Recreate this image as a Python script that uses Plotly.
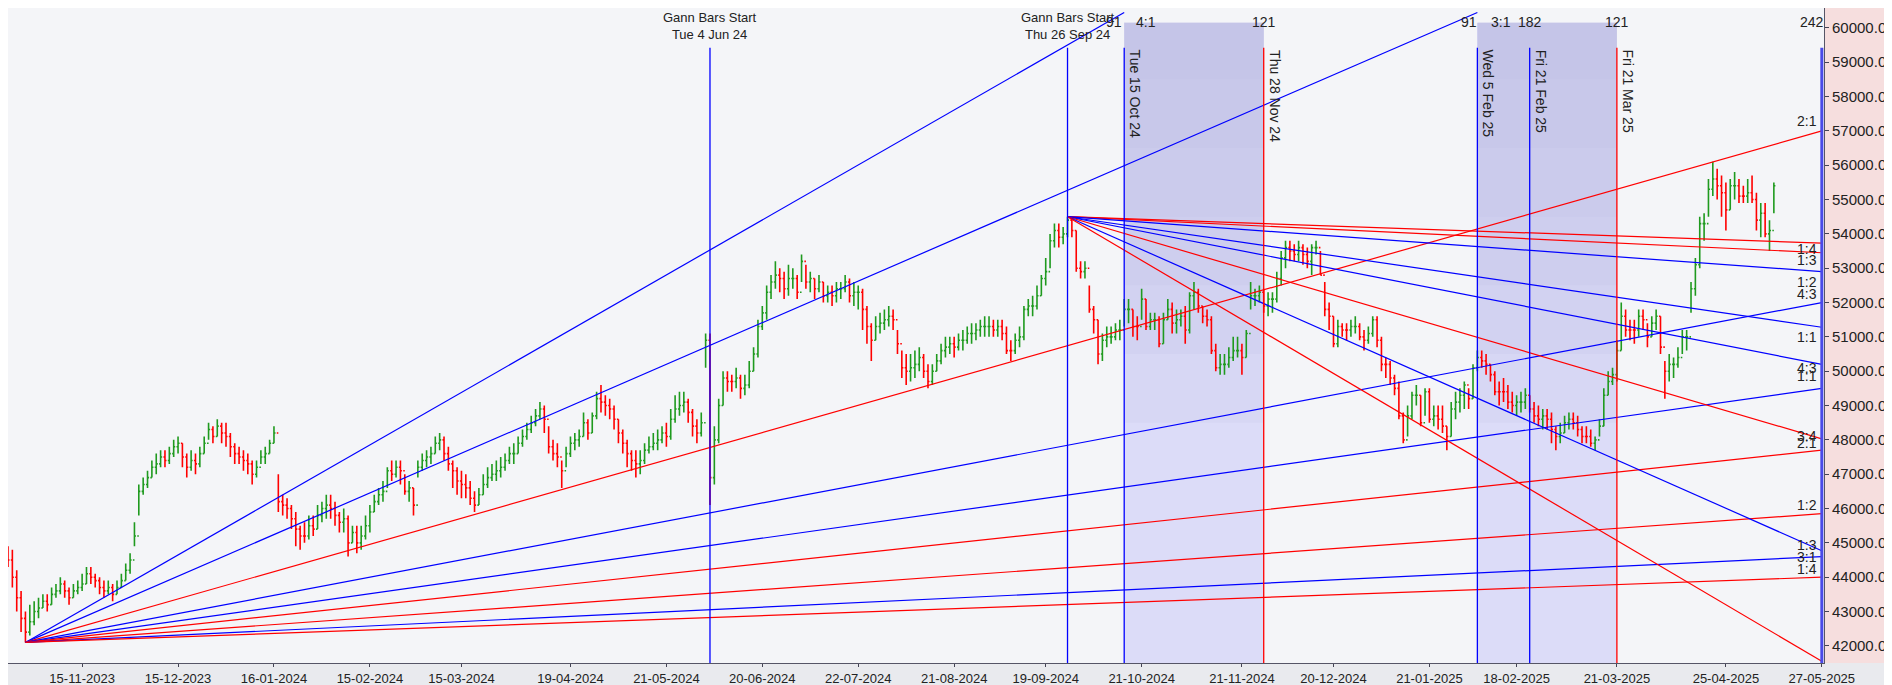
import plotly.graph_objects as go
import pandas as pd

# Daily bars (values in hundreds of points), Oct-2023 .. May-2025
close = [445,440,434,428,424,427,430,
 431,433,432,435,436,438,436,434,436,437,438,441,440,439,437,436,437,435,437,439,442,445,
 452,465,467,469,472,473,475,474,476,478,479,475,472,474,473,476,479,483,481,484,482,
 481,478,476,475,474,473,470,472,475,476,479,482,462,461,460,457,454,452,452,455,454,458,460,
 461,460,458,456,457,450,453,450,452,455,459,462,464,465,471,470,472,471,465,466,461,
 472,474,475,476,479,480,476,473,471,468,467,466,463,461,464,467,469,470,471,472,474,
 476,476,479,481,483,485,487,489,486,478,476,475,471,476,479,480,481,485,482,487,492,491,
 490,489,486,482,479,476,474,473,474,477,478,479,480,482,481,486,489,490,491,488,484,482,485,
 509,469,480,490,498,497,497,498,495,496,500,505,513,517,523,526,528,527,524,527,
 527,523,532,526,527,524,526,522,523,522,524,524,526,522,523,523,518,513,509,513,514,515,516,
 515,508,501,500,501,502,504,500,497,500,503,506,507,508,507,509,509,511,511,512,513,513,
 513,512,513,511,506,506,509,510,518,519,519,522,527,529,538,541,539,540,544,541,530,
 529,530,518,515,505,509,510,510,512,512,518,518,513,513,521,513,515,515,508,515,518,514,515,
 516,512,522,523,519,516,515,506,501,502,502,504,506,506,504,511,522,522,523,519,521,
 521,527,533,536,535,534,536,534,532,536,536,528,518,516,508,513,512,512,513,513,510,509,
 511,515,509,502,502,498,495,487,480,487,493,493,485,494,486,487,486,484,481,489,491,493,496,
 492,501,504,503,502,499,494,494,494,491,490,491,491,493,489,487,486,487,486,483,
 481,482,485,486,485,483,481,481,479,480,484,493,497,499,506,516,512,512,512,516,515,
 510,514,516,507,500,502,502,504,510,510,524,531,543,543,553,556,554,552,547,554,554,551,
 551,552,550,544,546,540,541,554]
high = [449,448,442,436,430,432,433,
 434,435,435,437,438,440,439,437,438,439,441,443,443,441,440,439,439,438,439,441,444,447,
 456,467,469,471,474,476,477,477,478,480,481,479,476,477,476,478,481,485,484,486,485,
 485,482,479,478,477,476,474,474,477,478,480,484,470,464,463,461,459,455,456,458,458,461,462,
 464,464,462,459,460,458,455,455,455,458,461,464,466,468,472,474,474,474,470,468,466,
 474,476,477,478,481,482,481,478,474,472,471,470,468,465,466,470,472,473,474,475,476,
 478,479,481,483,485,487,489,491,490,484,480,479,474,478,481,482,483,488,486,488,494,496,
 493,492,490,486,483,480,477,477,477,479,481,482,483,484,485,489,493,494,494,492,489,486,488,
 511,511,484,492,500,500,499,501,499,499,503,507,515,519,525,528,532,530,529,531,
 530,528,534,531,529,527,528,526,525,525,526,526,528,527,526,525,524,519,514,516,517,518,519,
 518,512,506,505,505,506,507,505,502,502,505,508,510,510,510,511,512,513,514,514,515,516,
 516,515,515,515,513,509,511,513,519,521,522,525,528,533,540,543,543,542,545,545,541,
 532,532,525,519,515,511,513,513,514,515,521,521,518,516,524,521,517,517,516,517,521,520,518,
 518,519,523,526,524,519,518,516,508,505,505,507,510,510,508,512,526,524,525,524,523,
 523,529,535,538,538,537,538,537,536,537,538,535,526,520,516,515,514,514,515,516,514,512,
 513,516,516,510,504,503,499,497,488,490,494,496,493,495,495,490,490,490,484,491,494,495,497,
 495,502,506,506,505,502,500,497,498,496,494,493,494,495,493,491,490,489,489,488,
 484,485,487,488,488,487,484,484,483,481,486,495,500,501,509,520,518,515,515,518,518,
 514,516,518,516,503,505,504,507,512,512,526,533,545,546,556,561,559,557,555,556,558,556,
 554,556,557,552,549,549,544,555]
low = [443,437,430,424,421,423,426,
 428,431,430,432,434,435,434,432,434,435,436,438,438,437,435,434,435,433,435,437,439,441,
 449,458,464,466,469,470,472,472,473,475,476,472,469,471,470,472,476,480,479,481,479,
 478,475,473,473,471,470,467,469,473,473,476,479,459,458,457,454,449,448,450,451,452,454,456,
 457,457,455,453,453,446,450,447,448,451,453,459,461,462,466,468,469,467,464,462,458,
 469,471,472,473,476,477,474,471,466,464,463,463,461,459,461,464,466,468,468,469,471,
 473,473,476,478,480,482,484,486,482,476,474,472,466,472,475,477,478,481,480,482,486,488,
 487,486,483,479,476,472,471,469,470,473,476,477,477,479,478,480,485,487,488,485,481,479,481,
 501,461,467,479,490,494,494,495,492,493,495,500,504,512,515,521,524,523,521,522,
 524,521,526,524,523,521,523,520,520,519,520,521,523,520,519,518,512,508,503,509,511,512,513,
 512,505,498,496,497,498,500,498,495,496,500,502,504,505,504,506,506,508,508,509,510,510,
 510,510,510,509,505,503,505,507,509,516,516,518,522,525,530,536,536,537,539,539,529,
 527,527,517,511,502,503,507,508,509,509,513,514,510,509,515,512,512,512,507,508,515,511,511,
 513,508,511,518,517,514,513,505,500,499,499,501,503,504,499,504,518,519,520,517,516,
 517,520,525,530,532,532,532,531,530,528,534,528,516,512,507,507,510,509,510,511,509,506,
 508,510,507,500,498,496,493,486,479,481,486,490,484,487,485,484,483,482,477,481,486,488,489,
 489,492,500,501,499,497,493,490,491,489,488,487,488,489,488,485,484,483,483,479,
 477,479,482,483,483,481,479,479,478,477,481,484,493,496,497,506,510,509,508,510,512,
 507,510,512,505,492,497,498,501,505,506,517,522,530,538,545,551,550,545,541,547,550,549,
 549,549,549,541,539,539,535,546]

# Gann fans
low_apex_date, low_apex_price = "2023-10-27", 42100
low_fan_end_dates = ["2024-10-15", "2025-02-05", "2025-05-27", "2025-05-27", "2025-05-27",
                     "2025-05-27", "2025-05-27", "2025-05-27", "2025-05-27"]
low_fan_end_prices = [60450, 60450, 57000, 52000, 49500, 47700, 45850, 44600, 44000]
low_fan_colors = ["blue", "blue", "red", "blue", "blue", "red", "red", "blue", "red"]

high_apex_date, high_apex_price = "2024-09-26", 54500
high_fan_end_date = "2025-05-27"
high_fan_end_prices = [53730, 53450, 52900, 51280, 50200, 48030, 44770, 41550]
high_fan_colors = ["red", "red", "blue", "blue", "blue", "red", "blue", "red"]

# vertical time lines
vline_dates = ["2024-06-04", "2024-09-26", "2024-10-15", "2024-11-28",
               "2025-02-05", "2025-02-21", "2025-03-21"]
vline_colors = ["blue", "blue", "blue", "red", "blue", "blue", "red"]
vline_rot_labels = [None, None, "Tue 15 Oct 24", "Thu 28 Nov 24",
                    "Wed 5 Feb 25", "Fri 21 Feb 25", "Fri 21 Mar 25"]
shade_ranges = [("2024-10-15", "2024-11-28"), ("2025-02-05", "2025-03-21")]

right_labels = [("2:1", 57300), ("1:4", 53550), ("1:3", 53250), ("1:2", 52600), ("4:3", 52250),
                ("1:1", 51000), ("4:3", 50100), ("1:1", 49850), ("3:4", 48100), ("2:1", 47900),
                ("1:2", 46100), ("1:3", 44950), ("3:1", 44600), ("1:4", 44250)]

tick_dates = ["2023-11-15", "2023-12-15", "2024-01-16", "2024-02-15", "2024-03-15", "2024-04-19",
              "2024-05-21", "2024-06-20", "2024-07-22", "2024-08-21", "2024-09-19", "2024-10-21",
              "2024-11-21", "2024-12-20", "2025-01-21", "2025-02-18", "2025-03-21", "2025-04-25",
              "2025-05-27"]
tick_text = [pd.Timestamp(d).strftime("%d-%m-%Y") for d in tick_dates]

n = min(len(close), len(high), len(low))
dates = pd.bdate_range("2023-10-23", periods=n)
c = [v * 100 for v in close[:n]]
h = [v * 100 for v in high[:n]]
l = [v * 100 for v in low[:n]]
o = [c[0] + 50] + c[:-1]

COL = {"blue": "#0000ff", "red": "#ff0000"}
YMIN, YMAX = 41500, 60580
fig = go.Figure()

shapes = []
for a, b in shade_ranges:
    shapes.append(dict(type="rect", xref="x", yref="y", x0=a, x1=b, y0=YMIN, y1=60150,
                       fillcolor="#dcdcf8", line_width=0, layer="below"))
    for k, y0 in enumerate([58500, 56500, 54500, 52500, 50500, 48500]):
        shapes.append(dict(type="rect", xref="x", yref="y", x0=a, x1=b, y0=y0, y1=60150,
                           fillcolor="#b8b8e2", opacity=0.12, line_width=0, layer="below"))
shapes.append(dict(type="rect", xref="paper", yref="paper", x0=1.0, x1=1.035, y0=0, y1=1,
                   fillcolor="#f6dede", line_width=0, layer="below"))
for d, col in zip(vline_dates, vline_colors):
    shapes.append(dict(type="line", xref="x", yref="y", x0=d, x1=d, y0=YMIN, y1=59420,
                       line=dict(color=COL[col], width=1.3)))
shapes.append(dict(type="line", xref="x", yref="y", x0="2025-05-27", x1="2025-05-27", y0=YMIN, y1=59420,
                   line=dict(color="#4a4ae8", width=3)))

for d, p, col in zip(low_fan_end_dates, low_fan_end_prices, low_fan_colors):
    fig.add_trace(go.Scatter(x=[low_apex_date, d], y=[low_apex_price, p], mode="lines",
                             line=dict(color=COL[col], width=1.2), hoverinfo="skip", showlegend=False))
for p, col in zip(high_fan_end_prices, high_fan_colors):
    fig.add_trace(go.Scatter(x=[high_apex_date, high_fan_end_date], y=[high_apex_price, p], mode="lines",
                             line=dict(color=COL[col], width=1.2), hoverinfo="skip", showlegend=False))

fig.add_trace(go.Ohlc(x=dates, open=o, high=h, low=l, close=c, tickwidth=0.35,
                      increasing=dict(line=dict(color="#1f9a1f", width=1.6)),
                      decreasing=dict(line=dict(color="#ff0000", width=1.6)),
                      showlegend=False))

F = "Liberation Sans, Arial, sans-serif"
ann = []
for d, txt in [("2024-06-04", "Gann Bars Start<br>Tue 4 Jun 24"), ("2024-09-26", "Gann Bars Start<br>Thu 26 Sep 24")]:
    ann.append(dict(x=d, y=1.0, xref="x", yref="paper", text=txt, showarrow=False, xanchor="center",
                    yanchor="top", font=dict(size=13, color="#222", family=F)))
for d, txt in zip(vline_dates, vline_rot_labels):
    if txt:
        ann.append(dict(x=d, y=59420, xref="x", yref="y", text=txt, showarrow=False, textangle=90,
                        xanchor="left", yanchor="top", xshift=1, font=dict(size=14, color="#222", family=F)))
top_nums = [("2024-10-15", "91", "right", 0), ("2024-10-15", "4:1", "left", 10), ("2024-11-28", "121", "center", 0),
            ("2025-02-05", "91", "right", 2), ("2025-02-05", "3:1", "left", 12), ("2025-02-21", "182", "center", 0),
            ("2025-03-21", "121", "center", 0), ("2025-05-27", "242", "right", 4)]
for d, txt, xa, sh in top_nums:
    ann.append(dict(x=d, y=1.0, xref="x", yref="paper", text=txt, showarrow=False, xanchor=xa, xshift=sh,
                    yanchor="top", yshift=-4, font=dict(size=14, color="#222", family=F)))
for txt, p in right_labels:
    ann.append(dict(x=0.997, y=p, xref="paper", yref="y", text=txt, showarrow=False, xanchor="right",
                    yanchor="middle", font=dict(size=14, color="#222", family=F)))

fig.update_layout(
    width=1892, height=685, margin=dict(l=0, r=76, t=0, b=30),
    paper_bgcolor="#e9eaee", plot_bgcolor="#f4f5f8",
    shapes=shapes, annotations=ann, showlegend=False,
    xaxis=dict(range=["2023-10-23", "2025-05-27 12:00"], rangebreaks=[dict(bounds=["sat", "mon"])],
               rangeslider=dict(visible=False), showgrid=False, tickvals=tick_dates, ticktext=tick_text,
               ticks="outside", ticklen=3, tickcolor="#445", showline=True, linecolor="#556",
               tickfont=dict(size=13, color="#222", family=F), zeroline=False),
    yaxis=dict(range=[YMIN, YMAX], side="right", dtick=1000, tickformat=".2f", showgrid=False,
               ticks="outside", ticklen=4, tickcolor="#445", showline=True, linecolor="#556",
               tickfont=dict(size=15, color="#222", family=F), zeroline=False),
)
fig.write_html("out.html")
